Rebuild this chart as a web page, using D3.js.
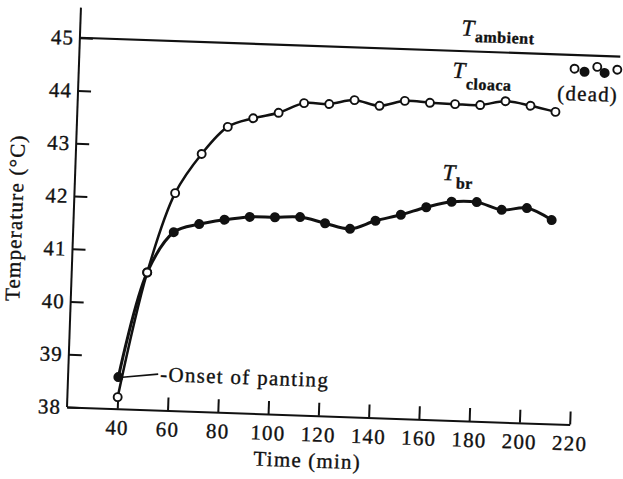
<!DOCTYPE html>
<html>
<head>
<meta charset="utf-8">
<script src="https://cdn.jsdelivr.net/npm/d3@7"></script>
<style>
  body { margin: 0; background: #fff; }
  svg text { font-family: "Liberation Serif", "Times New Roman", serif; fill: #111; stroke: #111; stroke-width: 0.35px; }
</style>
</head>
<body>
<div id="chart"></div>
<script>
///////////////////////////// DATA ////////////////////////////////////////////
// time (min), temperature (°C)
var times  = [40, 50, 60, 70, 80, 90, 100, 110, 120, 130, 140, 150, 160, 170, 180, 190, 200, 210];
var cloaca = [38.22, 40.6, 42.12, 42.88, 43.41, 43.59, 43.71, 43.91, 43.91, 44.0, 43.91, 44.02, 44.0, 43.99, 43.99, 44.08, 44.01, 43.91];
var brain  = [38.6, 40.6, 41.38, 41.55, 41.65, 41.72, 41.73, 41.75, 41.65, 41.56, 41.73, 41.86, 42.02, 42.14, 42.15, 42.02, 42.07, 41.86];

var ambientTime = [20, 235];
var ambientTemp = [45, 45];

// points after death
var deadCloacaTime = [217, 226, 234];
var deadCloacaTemp = [44.74, 44.79, 44.75];
var deadBrainTime  = [221, 229];
var deadBrainTemp  = [44.69, 44.68];

var xTicks = [40, 60, 80, 100, 120, 140, 160, 180, 200, 220];
var yTicks = [38, 39, 40, 41, 42, 43, 44, 45];

///////////////////////////// SETUP ///////////////////////////////////////////
var W = 623, H = 479;
var ox = 67, oy = 407;   // axis origin
var tilt = 2;            // the printed figure sits slightly rotated

var svg = d3.select("#chart").append("svg")
    .attr("width", W).attr("height", H);

var g = svg.append("g")
    .attr("transform", "rotate(" + tilt + "," + ox + "," + oy + ")");

var x = d3.scaleLinear().domain([20, 220]).range([ox, 570]);
var y = d3.scaleLinear().domain([38, 45]).range([oy, 37.5]);

///////////////////////////// AXES ////////////////////////////////////////////
var yAxis = g.append("g")
    .attr("transform", "translate(" + ox + ",0)")
    .call(d3.axisLeft(y).tickValues(yTicks).tickSizeInner(-13).tickSizeOuter(0)
        .tickPadding(6).tickFormat(d3.format("d")));
yAxis.select(".domain").remove();
yAxis.selectAll("line").attr("stroke", "#111").attr("stroke-width", 2);
yAxis.selectAll("text").attr("font-size", 21).style("letter-spacing", "1px");

g.append("line")
    .attr("x1", ox).attr("x2", ox)
    .attr("y1", y(38)).attr("y2", y(45.57))
    .attr("stroke", "#111").attr("stroke-width", 2);

var xAxis = g.append("g")
    .attr("transform", "translate(0," + oy + ")")
    .call(d3.axisBottom(x).tickValues(xTicks).tickSizeInner(-13).tickSizeOuter(0)
        .tickPadding(11).tickFormat(d3.format("d")));
xAxis.select(".domain").attr("stroke", "#111").attr("stroke-width", 2);
xAxis.selectAll("line").attr("stroke", "#111").attr("stroke-width", 2);
xAxis.selectAll("text").attr("font-size", 21).style("letter-spacing", "1.2px");

g.append("text")
    .attr("x", 309).attr("y", 459)
    .attr("text-anchor", "middle")
    .attr("font-size", 21).style("letter-spacing", "1.2px")
    .text("Time (min)");

g.append("text")
    .attr("transform", "translate(15.5,219.6) rotate(-90)")
    .attr("text-anchor", "middle")
    .attr("font-size", 21).style("letter-spacing", "1.2px")
    .text("Temperature (°C)");

///////////////////////////// LINES ///////////////////////////////////////////
var ambient = d3.zip(ambientTime, ambientTemp);
var cl = d3.zip(times, cloaca);
var br = d3.zip(times, brain);

var line = d3.line()
    .x(function(d) { return x(d[0]); })
    .y(function(d) { return y(d[1]); });

g.append("path").datum(ambient)
    .attr("d", line)
    .attr("fill", "none").attr("stroke", "#111").attr("stroke-width", 2.2);

var smooth = d3.line()
    .x(function(d) { return x(d[0]); })
    .y(function(d) { return y(d[1]); })
    .curve(d3.curveCatmullRom.alpha(0.5));

g.append("path").datum(br)
    .attr("d", smooth)
    .attr("fill", "none").attr("stroke", "#111").attr("stroke-width", 3);

g.append("path").datum(cl)
    .attr("d", smooth)
    .attr("fill", "none").attr("stroke", "#111").attr("stroke-width", 2.5);

///////////////////////////// POINTS //////////////////////////////////////////
var filledPts = br.concat(d3.zip(deadBrainTime, deadBrainTemp));
var openPts = cl.concat(d3.zip(deadCloacaTime, deadCloacaTemp));

g.append("g").selectAll("circle")
    .data(filledPts)
    .enter().append("circle")
    .attr("cx", function(d) { return x(d[0]); })
    .attr("cy", function(d) { return y(d[1]); })
    .attr("r", 5)
    .attr("fill", "#111");

g.append("g").selectAll("circle")
    .data(openPts)
    .enter().append("circle")
    .attr("cx", function(d) { return x(d[0]); })
    .attr("cy", function(d) { return y(d[1]); })
    .attr("r", 4)
    .attr("fill", "#fff")
    .attr("stroke", "#111").attr("stroke-width", 1.9);

///////////////////////////// LABELS //////////////////////////////////////////
function seriesLabel(px, py, sub, drop) {
  var t = g.append("text").attr("x", px).attr("y", py);
  t.append("tspan")
      .attr("font-size", 23).attr("font-style", "italic")
      .text("T");
  t.append("tspan")
      .attr("dy", drop).attr("dx", 1)
      .attr("font-size", 16).attr("font-weight", "bold")
      .style("letter-spacing", "0.5px")
      .text(sub);
}
seriesLabel(448, 22, "ambient", 6);
seriesLabel(440.5, 64.5, "cloaca", 11);
seriesLabel(434, 167, "br", 8);

g.append("text")
    .attr("x", 546).attr("y", 83)
    .attr("font-size", 21).style("letter-spacing", "1.2px")
    .text("(dead)");

// onset of panting marker
g.append("line")
    .attr("x1", x(times[0]) + 4).attr("y1", y(brain[0]))
    .attr("x2", 157).attr("y2", 371)
    .attr("stroke", "#111").attr("stroke-width", 1.6);

g.append("text")
    .attr("x", 159).attr("y", 378)
    .attr("font-size", 21).style("letter-spacing", "1.3px")
    .text("-Onset of panting");
</script>
</body>
</html>
